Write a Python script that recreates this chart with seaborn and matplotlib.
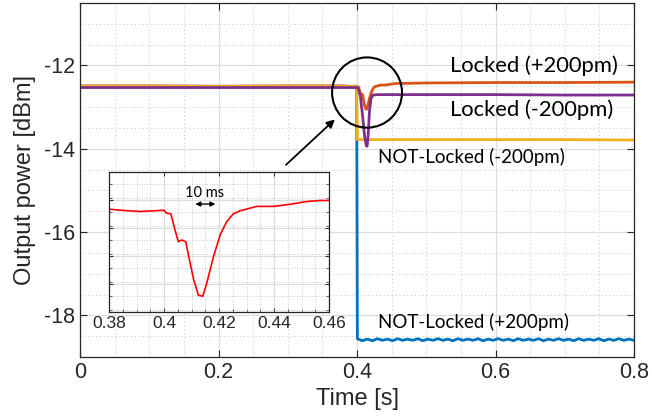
import numpy as np
import matplotlib
matplotlib.use("Agg")
import matplotlib.pyplot as plt
import seaborn as sns
from matplotlib.patches import Ellipse
from matplotlib.ticker import MultipleLocator

# --- data ---
# zoomed dip of the "Locked (+200pm)" trace (shown in the inset)
dip_t = [0.38, 0.3852, 0.3913, 0.400, 0.401, 0.4025, 0.404, 0.4052, 0.4064,
         0.4079, 0.409, 0.4107, 0.4125, 0.4141, 0.4155, 0.418, 0.4204, 0.4228,
         0.4252, 0.4276, 0.4337, 0.440, 0.446, 0.4519, 0.4567, 0.460]
dip_p = [-12.489, -12.497, -12.504, -12.496, -12.515, -12.519, -12.623, -12.698,
         -12.687, -12.698, -12.794, -12.935, -13.042, -13.049, -12.967, -12.794,
         -12.655, -12.569, -12.519, -12.500, -12.471, -12.471, -12.457, -12.440,
         -12.433, -12.433]

# Locked (+200pm)
lp_t = [0.0, 0.1, 0.2, 0.3, 0.37] + dip_t + [0.5, 0.6, 0.7, 0.8]
lp_p = [-12.49, -12.49, -12.50, -12.49, -12.49] + dip_p + [-12.42, -12.41, -12.41, -12.40]

# Locked (-200pm)
lm_t = [0.0, 0.1, 0.2, 0.3, 0.4, 0.402, 0.405, 0.408, 0.411, 0.4135, 0.4145,
        0.416, 0.418, 0.420, 0.423, 0.43, 0.5, 0.6, 0.7, 0.8]
lm_p = [-12.53, -12.53, -12.53, -12.53, -12.53, -12.56, -12.75, -13.20, -13.70,
        -13.93, -13.94, -13.70, -13.10, -12.80, -12.71, -12.70, -12.70, -12.70,
        -12.71, -12.71]

# NOT-Locked (-200pm)
nm_t = [0.0, 0.2, 0.3995, 0.4005, 0.5, 0.6, 0.7, 0.8]
nm_p = [-12.50, -12.50, -12.50, -13.78, -13.78, -13.78, -13.78, -13.79]

# NOT-Locked (+200pm), with its small ripple after the drop
np_t_pre = [0.0, 0.2, 0.3995]
np_p_pre = [-12.50, -12.50, -12.50]
np_ripple = [-18.56, -18.61, -18.57, -18.61, -18.56, -18.60, -18.57, -18.61,
             -18.56, -18.60, -18.57, -18.60, -18.56, -18.61, -18.57, -18.60,
             -18.56, -18.60, -18.57, -18.61, -18.56, -18.60, -18.57, -18.60,
             -18.56, -18.61, -18.57, -18.60, -18.56, -18.60, -18.57, -18.61,
             -18.56, -18.60, -18.57, -18.60, -18.56, -18.61, -18.57, -18.60,
             -18.56, -18.60, -18.57, -18.61, -18.56, -18.60, -18.57, -18.60,
             -18.56, -18.61, -18.57, -18.60, -18.56, -18.60, -18.57, -18.60]
np_t = np_t_pre + list(np.linspace(0.4005, 0.8, len(np_ripple)))
np_p = np_p_pre + np_ripple

colors = {"np": "#0072BD", "lp": "#D95319", "nm": "#EDB120", "lm": "#7E2F8E"}

sns.set_theme(style="ticks")
plt.rcParams["font.family"] = ["Liberation Sans", "DejaVu Sans"]
plt.rcParams["axes.edgecolor"] = "#262626"
plt.rcParams["axes.unicode_minus"] = False

fig = plt.figure(figsize=(6.52, 4.17), dpi=100)
ax = fig.add_axes([0.1227, 0.1439, 0.8497, 0.8489])

for t, p, c in [(np_t, np_p, colors["np"]), (lp_t, lp_p, colors["lp"]),
                (nm_t, nm_p, colors["nm"]), (lm_t, lm_p, colors["lm"])]:
    sns.lineplot(x=t, y=p, ax=ax, color=c, lw=2.0, estimator=None, sort=False,
                 legend=False)

ax.set_xlim(0, 0.8)
ax.set_ylim(-19, -10.5)
ax.set_xticks([0, 0.2, 0.4, 0.6, 0.8])
ax.set_xticklabels(["0", "0.2", "0.4", "0.6", "0.8"])
ax.set_yticks([-18, -16, -14, -12])
ax.set_yticklabels(["-18", "-16", "-14", "-12"])
ax.xaxis.set_minor_locator(MultipleLocator(0.05))
ax.yaxis.set_minor_locator(MultipleLocator(0.5))
ax.grid(True, which="major", color="#dddddd", lw=0.9, ls="-")
ax.grid(True, which="minor", color="#c4c4c4", lw=0.7, ls=(0, (1, 3)))
ax.set_axisbelow(True)
ax.tick_params(which="major", direction="in", length=5, width=0.8,
               top=True, right=True, labelsize=15.5, colors="#262626")
ax.tick_params(which="minor", length=0, top=True, right=True)
for s in ax.spines.values():
    s.set_linewidth(0.9)
ax.set_xlabel("Time [s]", fontsize=17, color="#262626", labelpad=4)
ax.set_ylabel("Output power [dBm]", fontsize=17, color="#262626", labelpad=6)

txt = dict(family=["Lato", "DejaVu Sans"], color="black")
ax.text(0.534, -12.0, "Locked (+200pm)", fontsize=15.8, va="center", **txt)
ax.text(0.534, -13.06, "Locked (-200pm)", fontsize=15.8, va="center", **txt)
ax.text(0.431, -14.2, "NOT-Locked (-200pm)", fontsize=13.5, va="center", **txt)
ax.text(0.430, -18.17, "NOT-Locked (+200pm)", fontsize=13.5, va="center", **txt)

ax.add_patch(Ellipse((0.4145, -12.65), 0.101, 1.687, fill=False, ec="black", lw=1.5, zorder=5))
ax.annotate("", xy=(0.371, -13.25), xytext=(0.2946, -14.43),
            arrowprops=dict(arrowstyle="-|>", color="black", lw=1.3, mutation_scale=12))

# inset
ins = fig.add_axes([0.1672, 0.2518, 0.3374, 0.3357])
sns.lineplot(x=dip_t, y=dip_p, ax=ins, color="#ff0000", lw=1.2, estimator=None,
             sort=False, legend=False)
ins.set_xlim(0.38, 0.46)
ins.set_ylim(-13.15, -12.25)
ins.set_xticks([0.38, 0.40, 0.42, 0.44, 0.46])
ins.set_xticklabels(["0.38", "0.4", "0.42", "0.44", "0.46"])
ins.set_yticks(np.linspace(-13.15, -12.25, 6))
ins.set_yticklabels([])
ins.xaxis.set_minor_locator(MultipleLocator(0.005))
ins.yaxis.set_minor_locator(MultipleLocator(0.09))
ins.grid(True, which="major", color="#dddddd", lw=0.9, ls="-")
ins.grid(True, which="minor", color="#bbbbbb", lw=0.6, ls=(0, (1, 2)))
ins.set_axisbelow(True)
ins.tick_params(which="major", direction="in", length=3, width=0.7,
                top=True, right=True, labelsize=12.5, colors="#262626", pad=3)
ins.tick_params(which="minor", direction="in", length=2, width=0.5, top=False, right=True, left=True)
for s in ins.spines.values():
    s.set_linewidth(0.9)
ins.annotate("", xy=(0.4197, -12.456), xytext=(0.4104, -12.456),
             arrowprops=dict(arrowstyle="<|-|>", color="black", lw=1.0, mutation_scale=7))
ins.text(0.4149, -12.385, "10 ms", fontsize=10.5, ha="center", va="center", **txt)

fig.savefig("out.png", dpi=100)
